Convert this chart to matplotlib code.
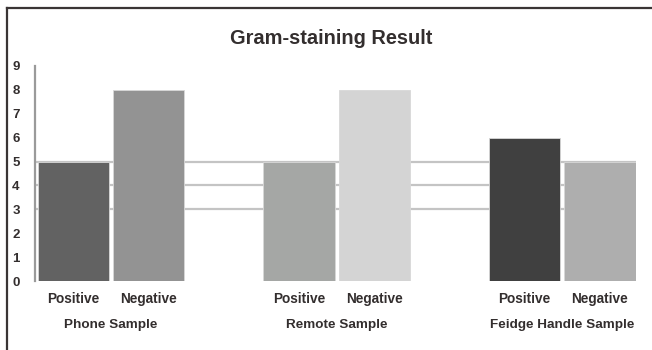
import numpy as np
import matplotlib
matplotlib.use('Agg')
import matplotlib.pyplot as plt
from matplotlib.lines import Line2D

plt.rcParams['font.family'] = ['Liberation Sans', 'DejaVu Sans']

# data
samples = ['Phone Sample', 'Remote Sample', 'Feidge Handle Sample']
stains = ['Positive', 'Negative']
positive = [5, 5, 6]
negative = [8, 8, 5]
ref_lines = [3, 4, 5]
yticks = list(range(0, 10))

pos_colors = ['#626262', '#a5a7a5', '#404040']
neg_colors = ['#939393', '#d4d4d4', '#aeaeae']
txt = '#332e2e'

fig = plt.figure(figsize=(6.52, 3.5), dpi=100)
W, H = 652, 350
# axes placed in pixels: left 35, right 636, top 66, bottom 281
ax = fig.add_axes([35/W, 1-281/H, (636-35)/W, (281-66)/H])

centers = np.arange(len(samples)) * 3
for y in ref_lines:
    ax.axhline(y, color='#c4c4c4', lw=1.6, zorder=1)

ax.bar(centers-0.5, positive, width=0.95, color=pos_colors,
       edgecolor='#d8d8d8', linewidth=0.6, zorder=2)
ax.bar(centers+0.5, negative, width=0.95, color=neg_colors,
       edgecolor='#d8d8d8', linewidth=0.6, zorder=2)

ax.set_xlim(-1.01, 6.98)
ax.set_ylim(0, 9)
ax.set_yticks(yticks)
ax.set_yticklabels([str(v) for v in yticks], fontsize=9.5, fontweight='bold', color=txt)

xt = np.concatenate([centers-0.5, centers+0.5])
xl = [stains[0]]*len(samples) + [stains[1]]*len(samples)
ax.set_xticks(xt)
ax.set_xticklabels(xl, fontsize=9.8, fontweight='bold', color=txt, va='baseline')
ax.tick_params(axis='both', length=0)
ax.tick_params(axis='x', pad=15.5)
ax.tick_params(axis='y', pad=11)

for c, s in zip(centers, samples):
    ax.text(c, -0.203, s, transform=ax.get_xaxis_transform(), ha='center', va='center',
            fontsize=9.7, fontweight='bold', color=txt)

for side in ['top', 'right', 'bottom']:
    ax.spines[side].set_visible(False)
ax.spines['left'].set_color('#9a9a9a')
ax.spines['left'].set_linewidth(1.6)

fig.text(331/W, 1-38/H, 'Gram-staining Result', ha='center', va='center',
         fontsize=14.4, fontweight='bold', color=txt)

# outer frame: top and left only
fig.add_artist(Line2D([6.5/W, 1], [1-8/H, 1-8/H], transform=fig.transFigure, color='#3a3535', lw=1.6))
fig.add_artist(Line2D([6.5/W, 6.5/W], [0, 1-8/H], transform=fig.transFigure, color='#3a3535', lw=1.6))

fig.savefig('out.png', dpi=100)
